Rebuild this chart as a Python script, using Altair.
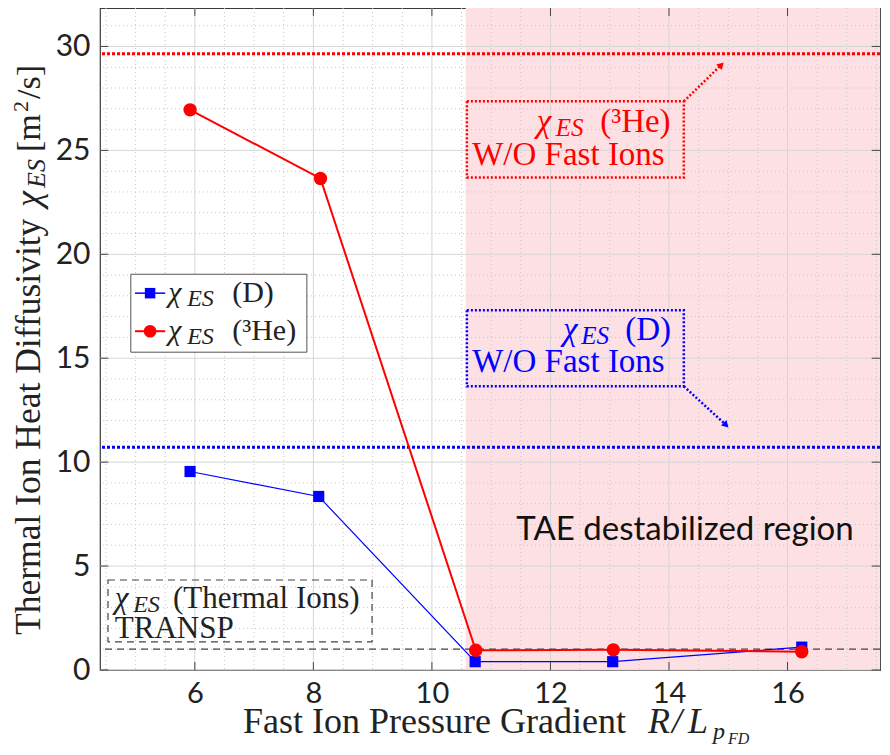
import altair as alt
import pandas as pd

# ---------------- data ----------------
x_d = [5.92, 8.09, 10.73, 13.05, 16.24]
y_d = [9.55, 8.35, 0.40, 0.40, 1.10]
x_he = [5.92, 8.12, 10.74, 13.06, 16.24]
y_he = [26.95, 23.65, 0.95, 0.97, 0.88]
ref_he = 29.65       # chi_ES (3He) without fast ions
ref_d = 10.72        # chi_ES (D) without fast ions
ref_transp = 1.0     # chi_ES thermal ions, TRANSP
tae_start = 10.57    # start of TAE destabilized region
x_ticks = [6, 8, 10, 12, 14, 16]
y_ticks = [0, 5, 10, 15, 20, 25, 30]
x_minor = [4.5, 5, 5.5, 6.5, 7, 7.5, 8.5, 9, 9.5, 10.5, 11, 11.5, 12.5, 13, 13.5,
           14.5, 15, 15.5, 16.5, 17, 17.5]
y_minor = [1, 2, 3, 4, 6, 7, 8, 9, 11, 12, 13, 14, 16, 17, 18, 19, 21, 22, 23, 24,
           26, 27, 28, 29, 31]

XDOM = [4.4, 17.56]
YDOM = [0, 31.85]
W, H = 780, 662
SERIF = "Liberation Serif"
RED = "#ff0000"
BLUE = "#0000ff"

XS = alt.Scale(domain=XDOM, nice=False, zero=False)
YS = alt.Scale(domain=YDOM, nice=False, zero=False)
XAX = alt.Axis(values=x_ticks, grid=False, ticks=False, domain=False, labelFont="Lato",
               labelFontSize=29, labelColor="#222", labelPadding=9, title=None)
YAX = alt.Axis(values=y_ticks, grid=False, ticks=False, domain=False, labelFont="Lato",
               labelFontSize=30, labelColor="#222", labelPadding=10, title=None)


def X(f):
    return alt.X(f, type="quantitative", scale=XS, axis=XAX, title=None)


def Y(f):
    return alt.Y(f, type="quantitative", scale=YS, axis=YAX, title=None)


ONE = pd.DataFrame({"k": [0]})
layers = []

# TAE region
layers.append(alt.Chart(pd.DataFrame({"x0": [tae_start], "x1": [XDOM[1]], "y0": [YDOM[0]], "y1": [YDOM[1]]}))
              .mark_rect(color="#fde0e4").encode(x=X("x0"), x2="x1", y=Y("y0"), y2="y1"))

# grid
layers.append(alt.Chart(pd.DataFrame({"x": x_minor})).mark_rule(color="#c8c8c8", strokeDash=[1, 3], strokeWidth=1)
              .encode(x=X("x")))
layers.append(alt.Chart(pd.DataFrame({"y": y_minor})).mark_rule(color="#c8c8c8", strokeDash=[1, 3], strokeWidth=1)
              .encode(y=Y("y")))
layers.append(alt.Chart(pd.DataFrame({"x": x_ticks})).mark_rule(color="#d6d6d6", strokeWidth=1).encode(x=X("x")))
layers.append(alt.Chart(pd.DataFrame({"y": y_ticks})).mark_rule(color="#d6d6d6", strokeWidth=1).encode(y=Y("y")))

# inward ticks
tk = 0.38
layers.append(alt.Chart(pd.DataFrame({"x": x_ticks, "a": [YDOM[0]] * 6, "b": [YDOM[0] + tk] * 6}))
              .mark_rule(color="#444", strokeWidth=1).encode(x=X("x"), y=Y("a"), y2="b"))
layers.append(alt.Chart(pd.DataFrame({"x": x_ticks, "a": [YDOM[1] - tk] * 6, "b": [YDOM[1]] * 6}))
              .mark_rule(color="#444", strokeWidth=1).encode(x=X("x"), y=Y("a"), y2="b"))
tkx = 0.14
layers.append(alt.Chart(pd.DataFrame({"y": y_ticks, "a": [XDOM[0]] * 7, "b": [XDOM[0] + tkx] * 7}))
              .mark_rule(color="#444", strokeWidth=1).encode(y=Y("y"), x=X("a"), x2="b"))
layers.append(alt.Chart(pd.DataFrame({"y": y_ticks, "a": [XDOM[1] - tkx] * 7, "b": [XDOM[1]] * 7}))
              .mark_rule(color="#444", strokeWidth=1).encode(y=Y("y"), x=X("a"), x2="b"))

# reference lines
layers.append(alt.Chart(pd.DataFrame({"y": [ref_he]})).mark_rule(color=RED, strokeDash=[3, 2], strokeWidth=3)
              .encode(y=Y("y")))
layers.append(alt.Chart(pd.DataFrame({"y": [ref_d]})).mark_rule(color=BLUE, strokeDash=[3, 2], strokeWidth=3)
              .encode(y=Y("y")))
layers.append(alt.Chart(pd.DataFrame({"y": [ref_transp]})).mark_rule(color="#444", strokeDash=[7, 5], strokeWidth=1.2)
              .encode(y=Y("y")))


def box(x0, x1, y0, y1, stroke, dash, sw, fill=None):
    props = dict(stroke=stroke, strokeWidth=sw)
    if dash:
        props["strokeDash"] = dash
    if fill:
        props["fill"] = fill
    else:
        props["fillOpacity"] = 0
    return (alt.Chart(pd.DataFrame({"x0": [x0], "x1": [x1], "y0": [y0], "y1": [y1]}))
            .mark_rect(**props).encode(x=X("x0"), x2="x1", y=Y("y0"), y2="y1"))


def T(x, y, text, size, color="black", italic=False, font=SERIF, align="left", dy=0):
    return (alt.Chart(pd.DataFrame({"x": [x], "y": [y]}))
            .mark_text(text=text, font=font, fontSize=size, fontStyle="italic" if italic else "normal",
                       color=color, align=align, baseline="alphabetic", dy=dy)
            .encode(x=X("x"), y=Y("y")))


def P(px, py, text, size, italic=False, angle=0):
    return (alt.Chart(ONE)
            .mark_text(text=text, font=SERIF, fontSize=size, fontStyle="italic" if italic else "normal",
                       color="#222", align="left", baseline="alphabetic", angle=angle)
            .encode(x=alt.value(px), y=alt.value(py)))


def arrow(x0, y0, x1, y1, color, ang):
    r = (alt.Chart(pd.DataFrame({"x0": [x0], "y0": [y0], "x1": [x1], "y1": [y1]}))
         .mark_rule(color=color, strokeDash=[2, 2], strokeWidth=2.5)
         .encode(x=X("x0"), y=Y("y0"), x2="x1", y2="y1"))
    h = (alt.Chart(pd.DataFrame({"x": [x1], "y": [y1]}))
         .mark_point(shape="triangle", filled=True, color=color, opacity=1, size=60, angle=ang)
         .encode(x=X("x"), y=Y("y")))
    return [r, h]


# annotation boxes
layers.append(box(10.59, 14.25, 23.70, 27.36, RED, [2, 2], 2.5))
layers.append(box(10.59, 14.25, 13.65, 17.31, BLUE, [2, 2], 2.5))
layers.append(box(4.535, 8.99, 1.35, 4.33, "#444", [7, 5], 1.2))
layers += arrow(14.25, 27.36, 14.87, 29.08, RED, 45)
layers += arrow(14.25, 13.65, 14.95, 11.82, BLUE, 135)

# data series
dfd = pd.DataFrame({"x": x_d, "y": y_d})
dfh = pd.DataFrame({"x": x_he, "y": y_he})
layers.append(alt.Chart(dfd).mark_line(color=BLUE, strokeWidth=1.2).encode(x=X("x"), y=Y("y")))
layers.append(alt.Chart(dfd).mark_point(shape="square", filled=True, color=BLUE, opacity=1, size=125)
              .encode(x=X("x"), y=Y("y")))
layers.append(alt.Chart(dfh).mark_line(color=RED, strokeWidth=2).encode(x=X("x"), y=Y("y")))
layers.append(alt.Chart(dfh).mark_point(shape="circle", filled=True, color=RED, opacity=1, size=180)
              .encode(x=X("x"), y=Y("y")))

# annotation texts
FS = 33
layers.append(T(11.77, 25.87, "χ", FS, RED, italic=True))
layers.append(T(12.09, 25.87, "ES", 25, RED, italic=True, dy=4))
layers.append(T(12.84, 25.87, "(³He)", FS, RED))
layers.append(T(10.68, 24.28, "W/O Fast Ions", FS, RED))
layers.append(T(12.21, 15.87, "χ", FS, BLUE, italic=True))
layers.append(T(12.52, 15.87, "ES", 25, BLUE, italic=True, dy=4))
layers.append(T(13.26, 15.87, "(D)", FS, BLUE))
layers.append(T(10.68, 14.33, "W/O Fast Ions", FS, BLUE))
layers.append(T(4.65, 2.98, "χ", 31, "#222", italic=True))
layers.append(T(4.96, 2.98, "ES", 24, "#222", italic=True, dy=4))
layers.append(T(5.63, 2.98, "(Thermal Ions)", 31, "#222"))
layers.append(T(4.65, 1.54, "TRANSP", 31, "#222"))
layers.append(T(14.27, 6.25, "TAE destabilized region", 33, "#111", font="Lato", align="center"))

# legend
layers.append(box(4.92, 7.89, 15.29, 19.04, "#555", None, 1, fill="white"))
leg_y = [18.13, 16.30]
layers.append(alt.Chart(pd.DataFrame({"a": [4.99], "b": [5.50], "y": [leg_y[0]]}))
              .mark_rule(color=BLUE, strokeWidth=1.5).encode(x=X("a"), x2="b", y=Y("y")))
layers.append(alt.Chart(pd.DataFrame({"a": [4.99], "b": [5.50], "y": [leg_y[1]]}))
              .mark_rule(color=RED, strokeWidth=2).encode(x=X("a"), x2="b", y=Y("y")))
layers.append(alt.Chart(pd.DataFrame({"x": [5.245], "y": [leg_y[0]]}))
              .mark_point(shape="square", filled=True, color=BLUE, opacity=1, size=110).encode(x=X("x"), y=Y("y")))
layers.append(alt.Chart(pd.DataFrame({"x": [5.245], "y": [leg_y[1]]}))
              .mark_point(shape="circle", filled=True, color=RED, opacity=1, size=160).encode(x=X("x"), y=Y("y")))
layers.append(T(5.55, 17.69, "χ", 30, "#222", italic=True))
layers.append(T(5.87, 17.69, "ES", 24, "#222", italic=True, dy=4))
layers.append(T(6.63, 17.69, "(D)", 30, "#222"))
layers.append(T(5.55, 15.87, "χ", 30, "#222", italic=True))
layers.append(T(5.87, 15.87, "ES", 24, "#222", italic=True, dy=4))
layers.append(T(6.63, 15.87, "(³He)", 30, "#222"))

# axis titles (pixel positions relative to the plot area)
layers.append(P(143, 725, "Fast Ion Pressure Gradient", 36))
layers.append(P(548, 725, "R", 36, italic=True))
layers.append(P(572, 725, "/", 36, italic=True))
layers.append(P(588, 725, "L", 36, italic=True))
layers.append(P(613, 731, "p", 24, italic=True))
layers.append(P(628, 736, "FD", 16, italic=True))

layers.append(P(-60, 627, "Thermal Ion Heat Diffusivity", 35.5, angle=270))
layers.append(P(-60, 199, "χ", 36, italic=True, angle=270))
layers.append(P(-55, 180, "ES", 26, italic=True, angle=270))
layers.append(P(-60, 144, "[m", 34, angle=270))
layers.append(P(-72, 104, "2", 22, angle=270))
layers.append(P(-60, 91, "/s]", 34, angle=270))

chart = (alt.layer(*layers)
         .properties(width=W, height=H, autosize=alt.AutoSizeParams(type="none"),
                     padding={"left": 92, "top": 0, "right": 2, "bottom": 77})
         .configure_view(stroke="#3a3a3a", strokeWidth=1.2))

chart.save("out.html", embed_options={"renderer": "svg", "actions": False})
